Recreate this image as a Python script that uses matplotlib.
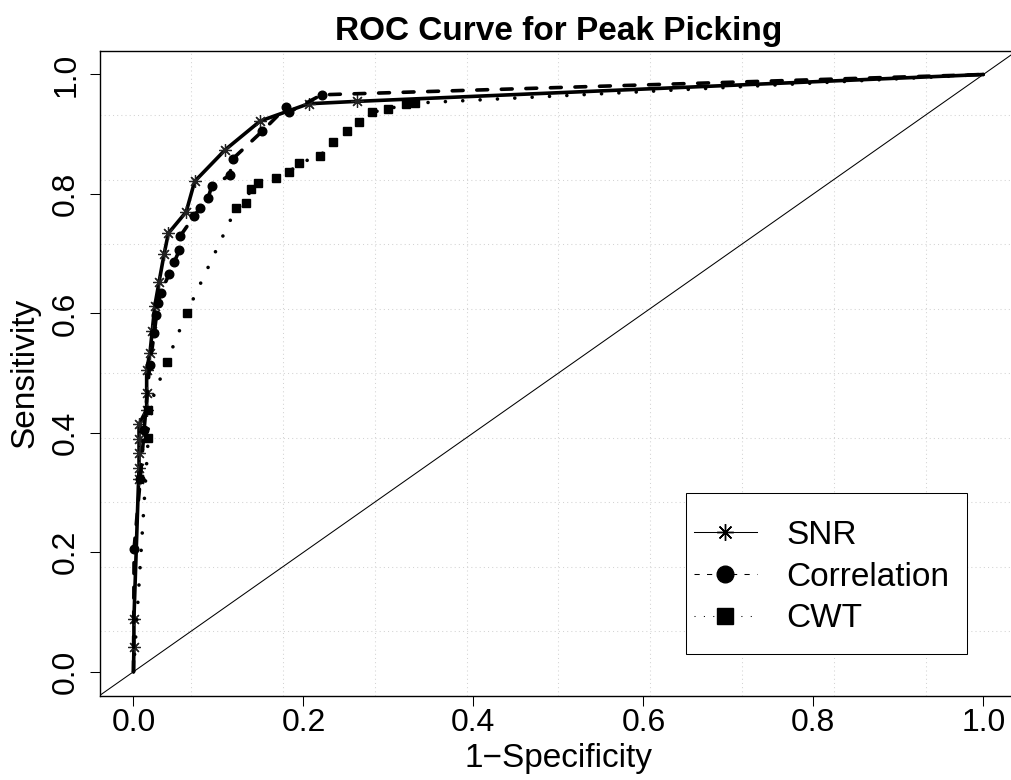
import matplotlib
matplotlib.use("Agg")
import matplotlib.pyplot as plt
from matplotlib.lines import Line2D
from matplotlib.patches import Rectangle

plt.rcParams['font.family'] = ['Liberation Sans', 'DejaVu Sans']

# ---- data ----
snr_fpr = [0.0, 0.0005, 0.0005, 0.006, 0.0065, 0.0065, 0.0065, 0.0065, 0.0155, 0.0155,
           0.0155, 0.0194, 0.022, 0.025, 0.030, 0.036, 0.041, 0.062, 0.072, 0.108,
           0.149, 0.206, 0.263, 1.0]
snr_tpr = [0.0, 0.041, 0.088, 0.322, 0.341, 0.366, 0.389, 0.414, 0.439, 0.467,
           0.506, 0.534, 0.570, 0.612, 0.652, 0.699, 0.734, 0.770, 0.821, 0.874,
           0.922, 0.951, 0.955, 1.0]

cor_fpr = [0.0, 0.0007, 0.008, 0.0125, 0.019, 0.0245, 0.027, 0.029, 0.032, 0.042,
           0.048, 0.054, 0.0547, 0.0715, 0.078, 0.088, 0.092, 0.113, 0.117, 0.1515,
           0.1795, 0.183, 0.2214, 1.0]
cor_tpr = [0.0, 0.206, 0.322, 0.405, 0.513, 0.567, 0.597, 0.618, 0.634, 0.666,
           0.686, 0.706, 0.729, 0.763, 0.776, 0.794, 0.813, 0.831, 0.859, 0.905,
           0.945, 0.937, 0.966, 1.0]

cwt_fpr = [0.0, 0.0174, 0.0174, 0.039, 0.0626, 0.1206, 0.132, 0.138, 0.146, 0.1676,
           0.183, 0.195, 0.219, 0.235, 0.251, 0.265, 0.281, 0.300, 0.3206, 0.331, 1.0]
cwt_tpr = [0.0, 0.392, 0.439, 0.518, 0.601, 0.776, 0.784, 0.809, 0.818, 0.826,
           0.836, 0.852, 0.863, 0.887, 0.906, 0.920, 0.937, 0.942, 0.951, 0.952, 1.0]

series_names = ["SNR", "Correlation", "CWT"]
tick_values = [0.0, 0.2, 0.4, 0.6, 0.8, 1.0]
tick_labels = ["0.0", "0.2", "0.4", "0.6", "0.8", "1.0"]
title = "ROC Curve for Peak Picking"
xlabel = "1\u2212Specificity"
ylabel = "Sensitivity"

# ---- figure ----
W, H = 1011, 780
fig = plt.figure(figsize=(W / 100, H / 100), dpi=100)
left, right, top, bottom = 99.5, 1017.3, 50.6, 695.6
ax = fig.add_axes([left / W, 1 - bottom / H, (right - left) / W, (bottom - top) / H])
ax.set_xlim(-0.04, 1.04)
ax.set_ylim(-0.04, 1.04)

# grid: 10 equal divisions of the plotting region (R grid(10,10) style)
for k in range(1, 10):
    v = -0.04 + 1.08 * k / 10
    ax.axvline(v, color='#d3d3d3', lw=0.75, ls=(0, (1, 3)), zorder=0)
    ax.axhline(v, color='#d3d3d3', lw=0.75, ls=(0, (1, 3)), zorder=0)

# diagonal reference
ax.axline((0, 0), slope=1, color='black', lw=0.75, zorder=1)

star = (8, 2, 0)
ax.plot(snr_fpr, snr_tpr, color='black', lw=2.6, solid_capstyle='round',
        marker=star, ms=9, mew=0.9, mec='#222222', markevery=slice(1, -1), zorder=3)
ax.plot(cor_fpr, cor_tpr, color='black', lw=2.6, dashes=(3, 3.8), dash_capstyle='round',
        marker='o', ms=6.2, markevery=slice(1, -1), zorder=3)
ax.plot(cwt_fpr, cwt_tpr, color='black', lw=2.6, dashes=(0.01, 4.8), dash_capstyle='round',
        marker='s', ms=5.6, markevery=slice(1, -1), zorder=3)

ax.set_xticks(tick_values)
ax.set_xticklabels(tick_labels)
ax.set_yticks(tick_values)
ax.set_yticklabels(tick_labels)
ax.tick_params(axis='both', direction='out', length=7.2, width=0.75, labelsize=23, color='black')
ax.tick_params(axis='x', pad=2)
ax.tick_params(axis='y', pad=6)
plt.setp(ax.get_yticklabels(), rotation=90, va='center', ha='right')

for s in ax.spines.values():
    s.set_linewidth(1.0)

ax.set_xlabel(xlabel, fontsize=24)
ax.set_ylabel(ylabel, fontsize=24)
ax.xaxis.set_label_coords(0.5, -0.074)
ax.yaxis.set_label_coords(-0.064, 0.5)
ax.set_title(title, fontsize=24, fontweight='bold', pad=7.5)

# legend box
box = Rectangle((686 / W, 1 - 654 / H), (966.7 - 686) / W, (654 - 492.7) / H,
                transform=fig.transFigure, facecolor='white', edgecolor='black',
                lw=0.75, zorder=4.5, clip_on=False)
ax.add_patch(box)

handles = [
    Line2D([], [], color='black', lw=0.75, marker=star, ms=12, mew=1.0),
    Line2D([], [], color='black', lw=0.75, dashes=(5, 7), marker='o', ms=12),
    Line2D([], [], color='black', lw=0.75, dashes=(1, 8), marker='s', ms=11),
]
leg = ax.legend(handles, series_names, loc='upper left', bbox_to_anchor=(694 / W, 1 - 520 / H),
                bbox_transform=fig.transFigure, frameon=False, fontsize=24,
                handlelength=1.88, handletextpad=0.9, labelspacing=0.32,
                borderpad=0, borderaxespad=0)
leg.set_zorder(6)

fig.savefig("out.png", dpi=100)
